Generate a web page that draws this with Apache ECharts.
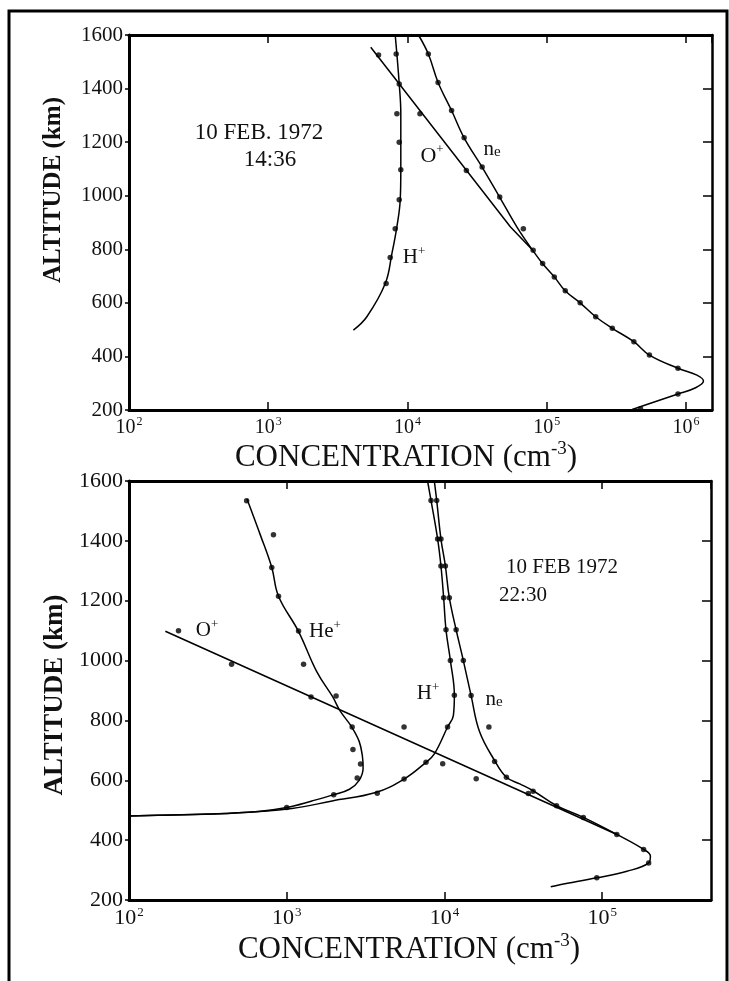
<!DOCTYPE html>
<html>
<head>
<meta charset="utf-8">
<script src="https://cdn.jsdelivr.net/npm/echarts@6/dist/echarts.min.js"></script>
<style>
  html, body { margin: 0; padding: 0; background: #fff; }
  #chart { width: 729px; height: 981px; }
</style>
</head>
<body>
<div id="chart"></div>
<script>
// axis ranges
const altMin = 200
const altMax = 1600
const altStep = 200
const concMin = 100
const dayConcMax = 1.54e6
const nightConcMax = 4.9e5

// 10 FEB. 1972 14:36  [concentration cm^-3, altitude km]
const dayHLine = [[8170, 1600], [8730, 1417], [8960, 1306], [8960, 1094], [8870, 983], [8390, 883], [7740, 785], [6940, 673], [5110, 548], [4090, 498]]
const dayHDots = [[8300, 1529], [8730, 1417], [8400, 1306], [8730, 1200], [8960, 1097], [8730, 985], [8170, 877], [7520, 769], [7030, 672]]
const dayOLine = [[5450, 1554], [55000, 883], [79430, 796]]
const dayODots = [[6200, 1525], [12300, 1306], [26500, 1094]]
const dayNeLine = [[12000, 1600], [14125, 1529], [16600, 1423], [20750, 1318], [25530, 1216], [34360, 1107], [45920, 995], [61660, 880], [79430, 796], [93330, 747], [113500, 697], [135800, 645], [173800, 600], [224900, 548], [295800, 505], [422700, 455], [547000, 405], [877000, 356], [1200000, 330], [1337000, 308], [1175000, 283], [877000, 260], [411000, 202]]
const dayNeDots = [[14125, 1529], [16600, 1423], [20750, 1318], [25530, 1216], [34400, 1107], [46000, 995], [68000, 877], [80000, 796], [93500, 747], [113500, 697], [136000, 645], [174000, 600], [225000, 548], [296000, 505], [423000, 455], [547000, 405], [877000, 356], [877000, 260], [472000, 205]]

// 10 FEB 1972 22:30
const nightHeLine = [[560, 1540], [680, 1420], [804, 1311], [887, 1215], [1189, 1097], [1550, 963], [1950, 880], [2190, 830], [2570, 780], [2880, 730], [3020, 680], [3050, 640], [2880, 600], [2500, 570], [1990, 552], [1445, 531], [1000, 509], [661, 496], [316, 487], [152, 483], [100, 481]]
const nightHeDots = [[557, 1534], [824, 1420], [804, 1311], [887, 1215], [1189, 1099], [1279, 988], [2056, 882], [2600, 778], [2630, 703], [2938, 654], [2799, 608], [1986, 552], [1000, 509]]
const nightHLine = [[7816, 1600], [8222, 1535], [9057, 1406], [9506, 1316], [9886, 1210], [10230, 1103], [10910, 1000], [11560, 884], [11400, 817], [10470, 778], [8630, 688], [7640, 660], [5546, 604], [3664, 559], [1941, 531], [1079, 506], [405, 489], [152, 483], [100, 481]]
const nightHDots = [[8222, 1535], [9057, 1406], [9506, 1316], [9886, 1210], [10230, 1103], [10910, 1000], [11560, 884], [10470, 778], [7640, 660], [5546, 604], [3750, 557]]
const nightOLine = [[170, 1098], [75900, 470], [123900, 419]]
const nightODots = [[206, 1100], [447, 988], [1426, 878], [5546, 778], [9750, 655], [15900, 605], [34000, 556]]
const nightNeLine = [[8630, 1600], [8933, 1535], [9506, 1406], [10140, 1316], [10740, 1210], [11860, 1103], [13180, 1000], [14760, 883], [16710, 762], [20800, 666], [24720, 610], [30060, 588], [36480, 565], [51400, 515], [76030, 476], [123900, 419], [183200, 369], [202300, 347], [197200, 324], [143600, 296], [92470, 274], [53950, 251], [47210, 244]]
const nightNeDots = [[8933, 1535], [9506, 1406], [10140, 1316], [10740, 1210], [11860, 1103], [13180, 1000], [14760, 883], [19140, 778], [20800, 663], [24720, 610], [36480, 563], [51400, 515], [76030, 476], [123900, 419], [183200, 369], [197200, 324], [92470, 274]]

const serif = "'Liberation Serif', 'Times New Roman', serif"
const ink = '#111'

function decadeLabel(v) {
  const e = Math.log10(v)
  if (Math.abs(e - Math.round(e)) > 0.01) return ''
  return '{b|10}{s|' + Math.round(e) + '}'
}

function xAxes(grid, max, size) {
  const line = { show: true, lineStyle: { color: '#000', width: 3 } }
  return [
    {
      type: 'log', logBase: 10, gridIndex: grid, min: concMin, max: max, position: 'bottom',
      axisLine: line,
      axisTick: { show: true, inside: true, length: 8, lineStyle: { color: '#000', width: 1.5 } },
      splitLine: { show: false },
      minorTick: { show: false },
      axisLabel: {
        formatter: decadeLabel, margin: 6, showMaxLabel: false,
        rich: {
          b: { fontFamily: serif, fontSize: size, color: ink },
          s: { fontFamily: serif, fontSize: Math.round(size * 0.6), color: ink, padding: [0, 0, size * 0.55, 1] },
        },
      },
    },
    {
      type: 'log', logBase: 10, gridIndex: grid, min: concMin, max: max, position: 'top',
      axisLine: line,
      axisTick: { show: true, inside: true, length: 8, lineStyle: { color: '#000', width: 1.5 } },
      splitLine: { show: false },
      axisLabel: { show: false },
    },
  ]
}

function yAxes(grid, size) {
  return [
    {
      type: 'value', gridIndex: grid, min: altMin, max: altMax, interval: altStep, position: 'left',
      axisLine: { show: true, lineStyle: { color: '#000', width: 3 } },
      axisTick: { show: true, inside: false, length: 4, lineStyle: { color: '#000', width: 1.5 } },
      splitLine: { show: false },
      axisLabel: { margin: 6, fontFamily: serif, fontSize: size, color: ink, formatter: v => String(v) },
    },
    {
      type: 'value', gridIndex: grid, min: altMin, max: altMax, interval: altStep, position: 'right',
      axisLine: { show: true, lineStyle: { color: '#000', width: 2.5 } },
      axisTick: { show: true, inside: true, length: 9, lineStyle: { color: '#000', width: 1.5 } },
      splitLine: { show: false },
      axisLabel: { show: false },
    },
  ]
}

function curve(data, xi, yi, smooth) {
  return {
    type: 'line', data: data, xAxisIndex: xi, yAxisIndex: yi,
    showSymbol: false, smooth: smooth,
    lineStyle: { color: '#000', width: 1.5 }, silent: true,
  }
}

function dots(data, xi, yi) {
  return {
    type: 'scatter', data: data, xAxisIndex: xi, yAxisIndex: yi,
    symbol: 'circle', symbolSize: 5.5, itemStyle: { color: '#000' }, silent: true,
  }
}

function label(x, y, text, size) {
  return {
    type: 'text', x: x, y: y, silent: true,
    style: {
      text: text, fill: ink, fontFamily: serif, fontSize: size,
      align: 'center', verticalAlign: 'middle', textAlign: 'center', textVerticalAlign: 'middle',
      rich: {
        t: { fontFamily: serif, fontSize: size, fill: ink, color: ink },
        p: { fontFamily: serif, fontSize: Math.round(size * 0.6), fill: ink, color: ink, padding: [0, 0, size * 0.55, 0] },
        e: { fontFamily: serif, fontSize: Math.round(size * 0.7), fill: ink, color: ink, padding: [size * 0.3, 0, 0, 0] },
      },
    },
  }
}

function vertTitle(x, y, size) {
  return {
    type: 'text', x: x, y: y, rotation: Math.PI / 2, silent: true,
    style: {
      text: 'ALTITUDE (km)', fill: ink, fontFamily: serif, fontSize: size, fontWeight: 'bold',
      align: 'center', verticalAlign: 'middle', textAlign: 'center', textVerticalAlign: 'middle',
    },
  }
}

const chart = echarts.init(document.getElementById('chart'))

chart.setOption({
  animation: false,
  backgroundColor: '#fff',
  grid: [
    { left: 129, top: 35, width: 583, height: 375 },
    { left: 129, top: 481, width: 582, height: 419 },
  ],
  xAxis: [...xAxes(0, dayConcMax, 20), ...xAxes(1, nightConcMax, 22)],
  yAxis: [...yAxes(0, 21), ...yAxes(1, 22)],
  series: [
    curve(dayHLine, 0, 0, 0.4),
    curve(dayOLine, 0, 0, false),
    curve(dayNeLine, 0, 0, 0.4),
    dots(dayHDots, 0, 0),
    dots(dayODots, 0, 0),
    dots(dayNeDots, 0, 0),
    curve(nightHeLine, 2, 2, 0.4),
    curve(nightHLine, 2, 2, 0.4),
    curve(nightOLine, 2, 2, false),
    curve(nightNeLine, 2, 2, 0.4),
    dots(nightHeDots, 2, 2),
    dots(nightHDots, 2, 2),
    dots(nightODots, 2, 2),
    dots(nightNeDots, 2, 2),
  ],
  graphic: [
    { type: 'rect', shape: { x: 9, y: 11, width: 718, height: 1000 }, style: { fill: 'none', stroke: '#000', lineWidth: 3 }, silent: true },
    vertTitle(54, 190, 25),
    vertTitle(55, 695, 27),
    label(406, 458, '{t|CONCENTRATION (cm}{p|-3}{t|)}', 31),
    label(409, 950, '{t|CONCENTRATION (cm}{p|-3}{t|)}', 31),
    label(259, 133, '{t|10 FEB. 1972}', 23),
    label(270, 160, '{t|14:36}', 23),
    label(432, 156, '{t|O}{p|+}', 22),
    label(492, 149, '{t|n}{e|e}', 21),
    label(414, 257, '{t|H}{p|+}', 21),
    label(562, 567, '{t|10 FEB 1972}', 21),
    label(523, 595, '{t|22:30}', 21),
    label(207, 630, '{t|O}{p|+}', 21),
    label(325, 631, '{t|He}{p|+}', 21),
    label(428, 693, '{t|H}{p|+}', 21),
    label(494, 699, '{t|n}{e|e}', 21),
  ],
})
</script>
</body>
</html>
